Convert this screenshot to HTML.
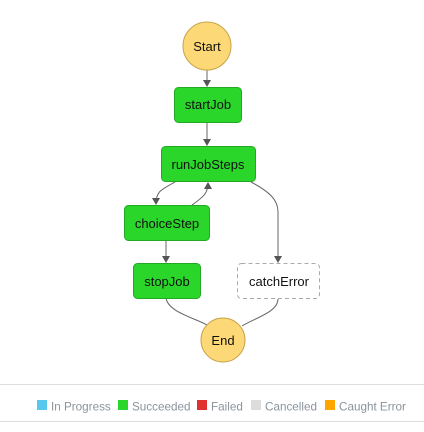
<!DOCTYPE html>
<html><head><style>
body{margin:0;background:#fff;width:424px;height:427px;overflow:hidden;font-family:"Liberation Sans",sans-serif}
</style></head><body>
<svg width="424" height="427" xmlns="http://www.w3.org/2000/svg" font-family="Liberation Sans, sans-serif">
<defs><marker id="a" markerWidth="8" markerHeight="8" refX="6" refY="4" orient="auto" markerUnits="userSpaceOnUse"><path d="M0,0 L7,4 L0,8 z" fill="#555"/></marker></defs>
<g fill="none" stroke="#666" stroke-width="1">
<path d="M207,70 L207,86" marker-end="url(#a)"/>
<path d="M207,123 L207,145" marker-end="url(#a)"/>
<path d="M175,182 C160,190 156,192 156,204" marker-end="url(#a)"/>
<path d="M192,205 C205,196 208,192 208,183" marker-end="url(#a)"/>
<path d="M166,240 L166,262" marker-end="url(#a)"/>
<path d="M251,182 C270,192 278,200 278,212 L278,262" marker-end="url(#a)"/>
<path d="M166,298 C168,312 195,318 207,325"/>
<path d="M278,299 C278,312 255,318 242,326"/>
</g>
<circle cx="207" cy="46" r="24" fill="#fdd877" stroke="#c8a44a" stroke-width="1"/>
<text x="207" y="51" text-anchor="middle" font-size="13" fill="#111">Start</text>
<rect x="174.5" y="87.5" width="67" height="35" rx="4" fill="#2bd62b" stroke="#22a822"/>
<text x="208" y="109" text-anchor="middle" font-size="13" fill="#111">startJob</text>
<rect x="161.5" y="146.5" width="94" height="35" rx="4" fill="#2bd62b" stroke="#22a822"/>
<text x="208" y="169" text-anchor="middle" font-size="13" fill="#111">runJobSteps</text>
<rect x="124.5" y="205.5" width="85" height="35" rx="4" fill="#2bd62b" stroke="#22a822"/>
<text x="167" y="228" text-anchor="middle" font-size="13" fill="#111">choiceStep</text>
<rect x="133.5" y="263.5" width="67" height="35" rx="4" fill="#2bd62b" stroke="#22a822"/>
<text x="167" y="286" text-anchor="middle" font-size="13" fill="#111">stopJob</text>
<rect x="237.5" y="263.5" width="82" height="35" rx="4" fill="#fff" stroke="#aaa" stroke-dasharray="4,3"/>
<text x="279" y="286" text-anchor="middle" font-size="13" fill="#111">catchError</text>
<circle cx="223" cy="340" r="22" fill="#fdd877" stroke="#c8a44a"/>
<text x="223" y="345" text-anchor="middle" font-size="13" fill="#111">End</text>
<line x1="0" y1="384.5" x2="424" y2="384.5" stroke="#ddd"/>
<line x1="0" y1="421.5" x2="424" y2="421.5" stroke="#ddd"/>
<g font-size="11.7" fill="#8a939c">
<rect x="37" y="400" width="10" height="10" fill="#56c8ee"/><text x="51" y="410.5">In Progress</text>
<rect x="118" y="400" width="10" height="10" fill="#2bd62b"/><text x="132" y="410.5">Succeeded</text>
<rect x="197" y="400" width="10" height="10" fill="#e03030"/><text x="211" y="410.5">Failed</text>
<rect x="251" y="400" width="10" height="10" fill="#dcdcdc"/><text x="265" y="410.5">Cancelled</text>
<rect x="325" y="400" width="10" height="10" fill="#ffa500"/><text x="339" y="410.5">Caught Error</text>
</g>
</svg>
</body></html>
